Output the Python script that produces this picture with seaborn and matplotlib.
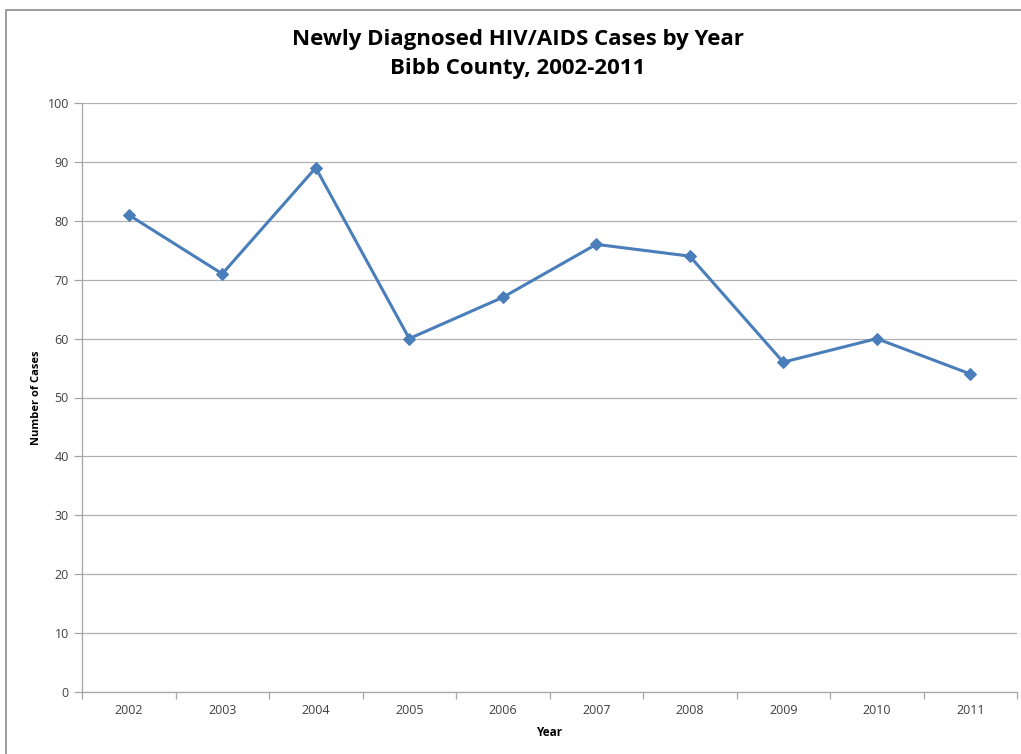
import matplotlib
matplotlib.use("Agg")
import matplotlib.pyplot as plt
import seaborn as sns
import pandas as pd
from matplotlib.patches import Rectangle
from matplotlib.ticker import FixedLocator, MultipleLocator

years = ["2002", "2003", "2004", "2005", "2006", "2007", "2008", "2009", "2010", "2011"]
cases = [81, 71, 89, 60, 67, 76, 74, 56, 60, 54]
title = "Newly Diagnosed HIV/AIDS Cases by Year\nBibb County, 2002-2011"
xlabel = "Year"
ylabel = "Number of Cases"

sns.set_theme(style="white")
plt.rcParams['font.family'] = ['Open Sans', 'DejaVu Sans']

df = pd.DataFrame({"Year": years, "Cases": cases})

fig = plt.figure(figsize=(10.21, 7.54), dpi=100)
ax = fig.add_axes([82/1021, 62/754, 935/1021, 589/754])

sns.lineplot(data=df, x="Year", y="Cases", ax=ax, color="#4A7EBB", linewidth=2.2,
             marker="D", markersize=6, markeredgecolor="#4A7EBB", sort=False)

ax.set_ylim(0, 100)
ax.set_xlim(-0.5, len(years) - 0.5)
ax.yaxis.set_major_locator(MultipleLocator(10))
ax.grid(axis="y", color="#B0B0B0", linewidth=0.9)
ax.set_axisbelow(True)

for s in ["top", "right"]:
    ax.spines[s].set_visible(False)
for s in ["left", "bottom"]:
    ax.spines[s].set_color("#A6A6A6")
    ax.spines[s].set_linewidth(0.9)

ax.tick_params(axis="y", which="major", length=6, width=0.9, color="#A6A6A6",
               labelsize=9, labelcolor="#404040", direction="out", left=True)
ax.tick_params(axis="x", which="major", length=0, labelsize=9, labelcolor="#404040", pad=9)
ax.xaxis.set_minor_locator(FixedLocator([i + 0.5 for i in range(-1, len(years))]))
ax.tick_params(axis="x", which="minor", length=5, width=0.9, color="#A6A6A6",
               direction="out", bottom=True)

ax.set_xlabel(xlabel, fontsize=8.5, fontweight="bold", color="black", labelpad=6)
ax.set_ylabel(ylabel, fontsize=8, fontweight="bold", color="black", labelpad=4)

fig.text(518/1021, 1 - 54/754, title, ha="center", va="center", fontsize=16,
         fontweight="bold", color="black", linespacing=1.55)

fig.patches.append(Rectangle((6/1021, -0.05), 1.1, 1 - 10/754 + 0.05,
                             transform=fig.transFigure, fill=False,
                             edgecolor="#8C8C8C", linewidth=1.2, zorder=0))

fig.savefig("out.png", dpi=100)
